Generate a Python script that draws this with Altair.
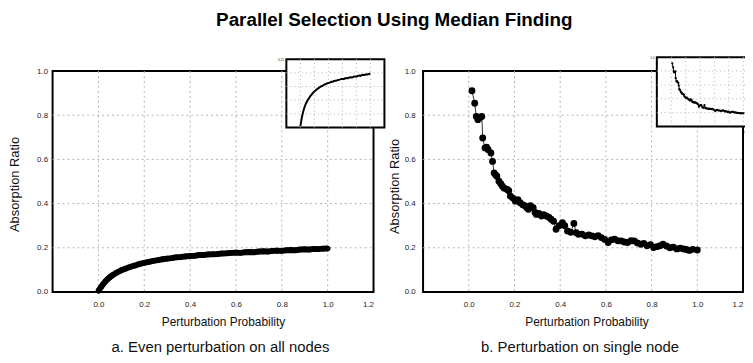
import altair as alt
import pandas as pd

# ---------------- data ----------------
# Panel a: even perturbation on all nodes
a_x = [0.00, 0.01, 0.02, 0.03, 0.04, 0.05, 0.06, 0.08, 0.10, 0.12, 0.14, 0.16, 0.18, 0.20,
       0.22, 0.24, 0.26, 0.28, 0.30, 0.32, 0.34, 0.36, 0.38, 0.40, 0.42, 0.44, 0.46, 0.48,
       0.50, 0.52, 0.54, 0.56, 0.58, 0.60, 0.62, 0.64, 0.66, 0.68, 0.70, 0.72, 0.74, 0.76,
       0.78, 0.80, 0.82, 0.84, 0.86, 0.88, 0.90, 0.92, 0.94, 0.96, 0.98, 1.00]
a_y = [0.005, 0.020, 0.035, 0.047, 0.058, 0.067, 0.075, 0.088, 0.098, 0.106, 0.114, 0.120, 0.127, 0.132,
       0.136, 0.141, 0.144, 0.148, 0.151, 0.153, 0.157, 0.158, 0.161, 0.163, 0.164, 0.167, 0.167, 0.170,
       0.171, 0.172, 0.174, 0.175, 0.177, 0.178, 0.177, 0.180, 0.181, 0.180, 0.183, 0.184, 0.183, 0.186,
       0.187, 0.186, 0.189, 0.190, 0.189, 0.192, 0.193, 0.192, 0.195, 0.194, 0.196, 0.197]

# Panel b: perturbation on single node
b_x = [0.014, 0.026, 0.033, 0.040, 0.047, 0.057, 0.061, 0.071, 0.078, 0.085, 0.097, 0.104, 0.111,
       0.117, 0.123, 0.132, 0.140, 0.147, 0.155, 0.168, 0.175, 0.182, 0.193, 0.204, 0.215, 0.225,
       0.236, 0.247, 0.255, 0.261, 0.270, 0.282, 0.290, 0.296, 0.307, 0.318, 0.328, 0.339, 0.350,
       0.360, 0.371, 0.382, 0.395, 0.410, 0.420, 0.432, 0.446, 0.460, 0.470, 0.480, 0.495, 0.510,
       0.525, 0.538, 0.552, 0.566, 0.580, 0.595, 0.610, 0.624, 0.638, 0.652, 0.667, 0.681, 0.695,
       0.710, 0.724, 0.738, 0.752, 0.766, 0.780, 0.795, 0.809, 0.823, 0.837, 0.850, 0.865, 0.880,
       0.895, 0.910, 0.925, 0.940, 0.952, 0.965, 0.980, 1.000]
b_y = [0.911, 0.854, 0.794, 0.780, 0.787, 0.794, 0.697, 0.652, 0.655, 0.644, 0.629, 0.591, 0.539,
       0.530, 0.524, 0.501, 0.490, 0.479, 0.470, 0.464, 0.458, 0.434, 0.425, 0.411, 0.418, 0.404,
       0.395, 0.389, 0.380, 0.374, 0.390, 0.381, 0.360, 0.351, 0.355, 0.344, 0.350, 0.344, 0.338,
       0.329, 0.320, 0.284, 0.300, 0.314, 0.300, 0.276, 0.270, 0.310, 0.268, 0.261, 0.262, 0.254,
       0.258, 0.254, 0.250, 0.255, 0.246, 0.238, 0.224, 0.236, 0.239, 0.232, 0.231, 0.226, 0.224,
       0.232, 0.231, 0.222, 0.216, 0.220, 0.209, 0.214, 0.201, 0.205, 0.209, 0.216, 0.208, 0.200,
       0.203, 0.195, 0.198, 0.195, 0.192, 0.188, 0.193, 0.190]

x_ticks = [0.0, 0.2, 0.4, 0.6, 0.8, 1.0, 1.2]
y_ticks = [0.0, 0.2, 0.4, 0.6, 0.8, 1.0]
inset_a_yticks = [0.0, 0.05, 0.10, 0.15, 0.20, 0.25]
inset_x_ticks = [0.0, 0.2, 0.4, 0.6, 0.8, 1.0]

title_text = "Parallel Selection Using Median Finding"
y_title = "Absorption Ratio"
x_title = "Perturbation Probability"
caption_a = "a. Even perturbation on all nodes"
caption_b = "b. Perturbation on single node"

# ---------------- layout (pixels inside the plot area; page = plot + (8, 8+PAD_TOP)) ----------------
W, H = 744, 307
PAD_TOP = 40
FONT = "Liberation Sans"

A_X = [45, 369]
B_X = [419, 742]
MAIN_Y = [245, 22]
IA_X = [281, 380]
IA_Y = [79, 10]
IB_X = [655, 757]
IB_Y = [78, 8]

dfa = pd.DataFrame({"x": a_x, "y": a_y})
dfb = pd.DataFrame({"x": b_x, "y": b_y})

GRID_COLOR = "#b4b4b4"


def sx(domain, rng):
    return alt.Scale(domain=domain, range=rng, nice=False, zero=False)


def grid_layers(xr, yr, xd, yd, xt, yt, dash=(2, 3)):
    gx = alt.Chart(pd.DataFrame({"v": xt})).mark_rule(
        color=GRID_COLOR, strokeWidth=1, strokeDash=list(dash)
    ).encode(
        x=alt.X("v:Q", scale=sx(xd, xr), axis=None),
        y=alt.value(yr[1]), y2=alt.value(yr[0]),
    )
    gy = alt.Chart(pd.DataFrame({"v": yt})).mark_rule(
        color=GRID_COLOR, strokeWidth=1, strokeDash=list(dash)
    ).encode(
        y=alt.Y("v:Q", scale=sx(yd, yr), axis=None),
        x=alt.value(xr[0]), x2=alt.value(xr[1]),
    )
    return [gx, gy]


def frame(xr, yr, xd, yd, width=2, fill="white"):
    return alt.Chart(pd.DataFrame({"x1": [xd[0]], "x2": [xd[1]], "y1": [yd[0]], "y2": [yd[1]]})).mark_rect(
        fill=fill, stroke="black", strokeWidth=width
    ).encode(
        x=alt.X("x1:Q", scale=sx(xd, xr), axis=None), x2="x2:Q",
        y=alt.Y("y1:Q", scale=sx(yd, yr), axis=None), y2="y2:Q",
    )


def tick_axes(xr, yr, xd, yd, xt, yt, fmt_x, fmt_y, size, xpad, ypad):
    ax_off = yr[0] - H
    ay_off = -xr[0]
    xa = alt.Chart(pd.DataFrame({"v": xt})).mark_point(opacity=0).encode(
        x=alt.X("v:Q", scale=sx(xd, xr),
                axis=alt.Axis(orient="bottom", offset=ax_off, values=xt, format=fmt_x,
                              domain=False, grid=False, ticks=False, tickSize=0,
                              labelFontSize=size, labelFont=FONT, labelColor="#222",
                              labelPadding=xpad, title=None)),
        y=alt.value(yr[0]),
    )
    ya = alt.Chart(pd.DataFrame({"v": yt})).mark_point(opacity=0).encode(
        y=alt.Y("v:Q", scale=sx(yd, yr),
                axis=alt.Axis(orient="left", offset=ay_off, values=yt, format=fmt_y,
                              domain=False, grid=False, ticks=False, tickSize=0,
                              labelFontSize=size, labelFont=FONT, labelColor="#222",
                              labelPadding=ypad, title=None)),
        x=alt.value(xr[0]),
    )
    return [xa, ya]


def title_axis_x(xr, yr, xd, text, size, tx, ty):
    return alt.Chart(pd.DataFrame({"v": [xd[0]]})).mark_point(opacity=0).encode(
        x=alt.X("v:Q", scale=sx(xd, xr),
                axis=alt.Axis(orient="bottom", offset=yr[0] - H, labels=False, ticks=False,
                              domain=False, grid=False, title=text, titleFont=FONT,
                              titleFontSize=size, titleFontWeight="normal", titleColor="#111",
                              titleX=tx, titleY=ty, titleBaseline="alphabetic",
                              titleAlign="center")),
        y=alt.value(yr[0]),
    )


def title_axis_y(xr, yr, yd, text, size, tx, ty):
    return alt.Chart(pd.DataFrame({"v": [yd[0]]})).mark_point(opacity=0).encode(
        y=alt.Y("v:Q", scale=sx(yd, yr),
                axis=alt.Axis(orient="left", offset=-xr[0], labels=False, ticks=False,
                              domain=False, grid=False, title=text, titleFont=FONT,
                              titleFontSize=size, titleFontWeight="normal", titleColor="#111",
                              titleX=tx, titleY=ty, titleAngle=270, titleBaseline="alphabetic",
                              titleAlign="center")),
        x=alt.value(xr[0]),
    )


layers = []
XD = [-0.2, 1.2]
YD = [0.0, 1.0]

# ---- panel a ----
layers.append(frame(A_X, MAIN_Y, XD, YD))
layers += grid_layers(A_X, MAIN_Y, XD, YD, x_ticks[:-1], y_ticks[1:-1])
layers.append(alt.Chart(dfa).mark_line(color="black", strokeWidth=6).encode(
    x=alt.X("x:Q", scale=sx(XD, A_X), axis=None), y=alt.Y("y:Q", scale=sx(YD, MAIN_Y), axis=None)))
layers.append(alt.Chart(dfa).mark_circle(color="black", size=32, opacity=1).encode(
    x=alt.X("x:Q", scale=sx(XD, A_X), axis=None), y=alt.Y("y:Q", scale=sx(YD, MAIN_Y), axis=None)))
layers += tick_axes(A_X, MAIN_Y, XD, YD, x_ticks, y_ticks, ".1f", ".1f", 8, 9, 5)
layers.append(title_axis_x(A_X, MAIN_Y, XD, x_title, 12, 217, 34))
layers.append(title_axis_x(A_X, MAIN_Y, XD, caption_a, 15, 214, 60))
layers.append(title_axis_y(A_X, MAIN_Y, YD, y_title, 13, -34, 136))

# ---- panel b ----
layers.append(frame(B_X, MAIN_Y, XD, YD))
layers += grid_layers(B_X, MAIN_Y, XD, YD, x_ticks[:-1], y_ticks[1:-1])
layers.append(alt.Chart(dfb).mark_line(color="#333", strokeWidth=1).encode(
    x=alt.X("x:Q", scale=sx(XD, B_X), axis=None), y=alt.Y("y:Q", scale=sx(YD, MAIN_Y), axis=None)))
layers.append(alt.Chart(dfb).mark_circle(color="black", size=48, opacity=1).encode(
    x=alt.X("x:Q", scale=sx(XD, B_X), axis=None), y=alt.Y("y:Q", scale=sx(YD, MAIN_Y), axis=None)))
layers += tick_axes(B_X, MAIN_Y, XD, YD, x_ticks, y_ticks, ".1f", ".1f", 8, 9, 8)
layers.append(title_axis_x(B_X, MAIN_Y, XD, x_title, 12, 584, 34))
layers.append(title_axis_x(B_X, MAIN_Y, XD, caption_b, 15, 577, 60))
layers.append(title_axis_y(B_X, MAIN_Y, YD, y_title, 13, -25, 138))

# ---- inset a ----
IAYD = [0.0, 0.25]
layers.append(frame(IA_X, IA_Y, XD, IAYD, width=2))
layers += grid_layers(IA_X, IA_Y, XD, IAYD, inset_x_ticks, inset_a_yticks[1:-1], dash=(1, 3))
layers.append(alt.Chart(dfa).mark_line(color="black", strokeWidth=2).encode(
    x=alt.X("x:Q", scale=sx(XD, IA_X), axis=None), y=alt.Y("y:Q", scale=sx(IAYD, IA_Y), axis=None)))
layers += tick_axes(IA_X, IA_Y, XD, IAYD, inset_x_ticks, inset_a_yticks, ".1f", ".2f", 3, 4, 3)

# ---- inset b ----
layers.append(frame(IB_X, IB_Y, XD, YD, width=2))
layers += grid_layers(IB_X, IB_Y, XD, YD, inset_x_ticks, y_ticks[1:-1], dash=(1, 3))
layers.append(alt.Chart(dfb).mark_line(color="black", strokeWidth=1).encode(
    x=alt.X("x:Q", scale=sx(XD, IB_X), axis=None), y=alt.Y("y:Q", scale=sx(YD, IB_Y), axis=None)))
layers.append(alt.Chart(dfb).mark_circle(color="black", size=5, opacity=1).encode(
    x=alt.X("x:Q", scale=sx(XD, IB_X), axis=None), y=alt.Y("y:Q", scale=sx(YD, IB_Y), axis=None)))
layers += tick_axes(IB_X, IB_Y, XD, YD, inset_x_ticks, y_ticks, ".1f", ".1f", 3, 4, 3)

chart = alt.layer(*layers).resolve_scale(x="independent", y="independent").resolve_axis(
    x="independent", y="independent"
).properties(
    width=W, height=H,
    autosize=alt.AutoSizeParams(type="none"),
    padding={"left": 0, "top": PAD_TOP, "right": 0, "bottom": 0},
    title=alt.TitleParams(title_text, font=FONT, fontSize=19, fontWeight="bold",
                          anchor="middle", offset=19, dx=18, color="black"),
).configure_view(stroke=None)

chart.save("out.html", embed_options={"renderer": "svg", "actions": False})
